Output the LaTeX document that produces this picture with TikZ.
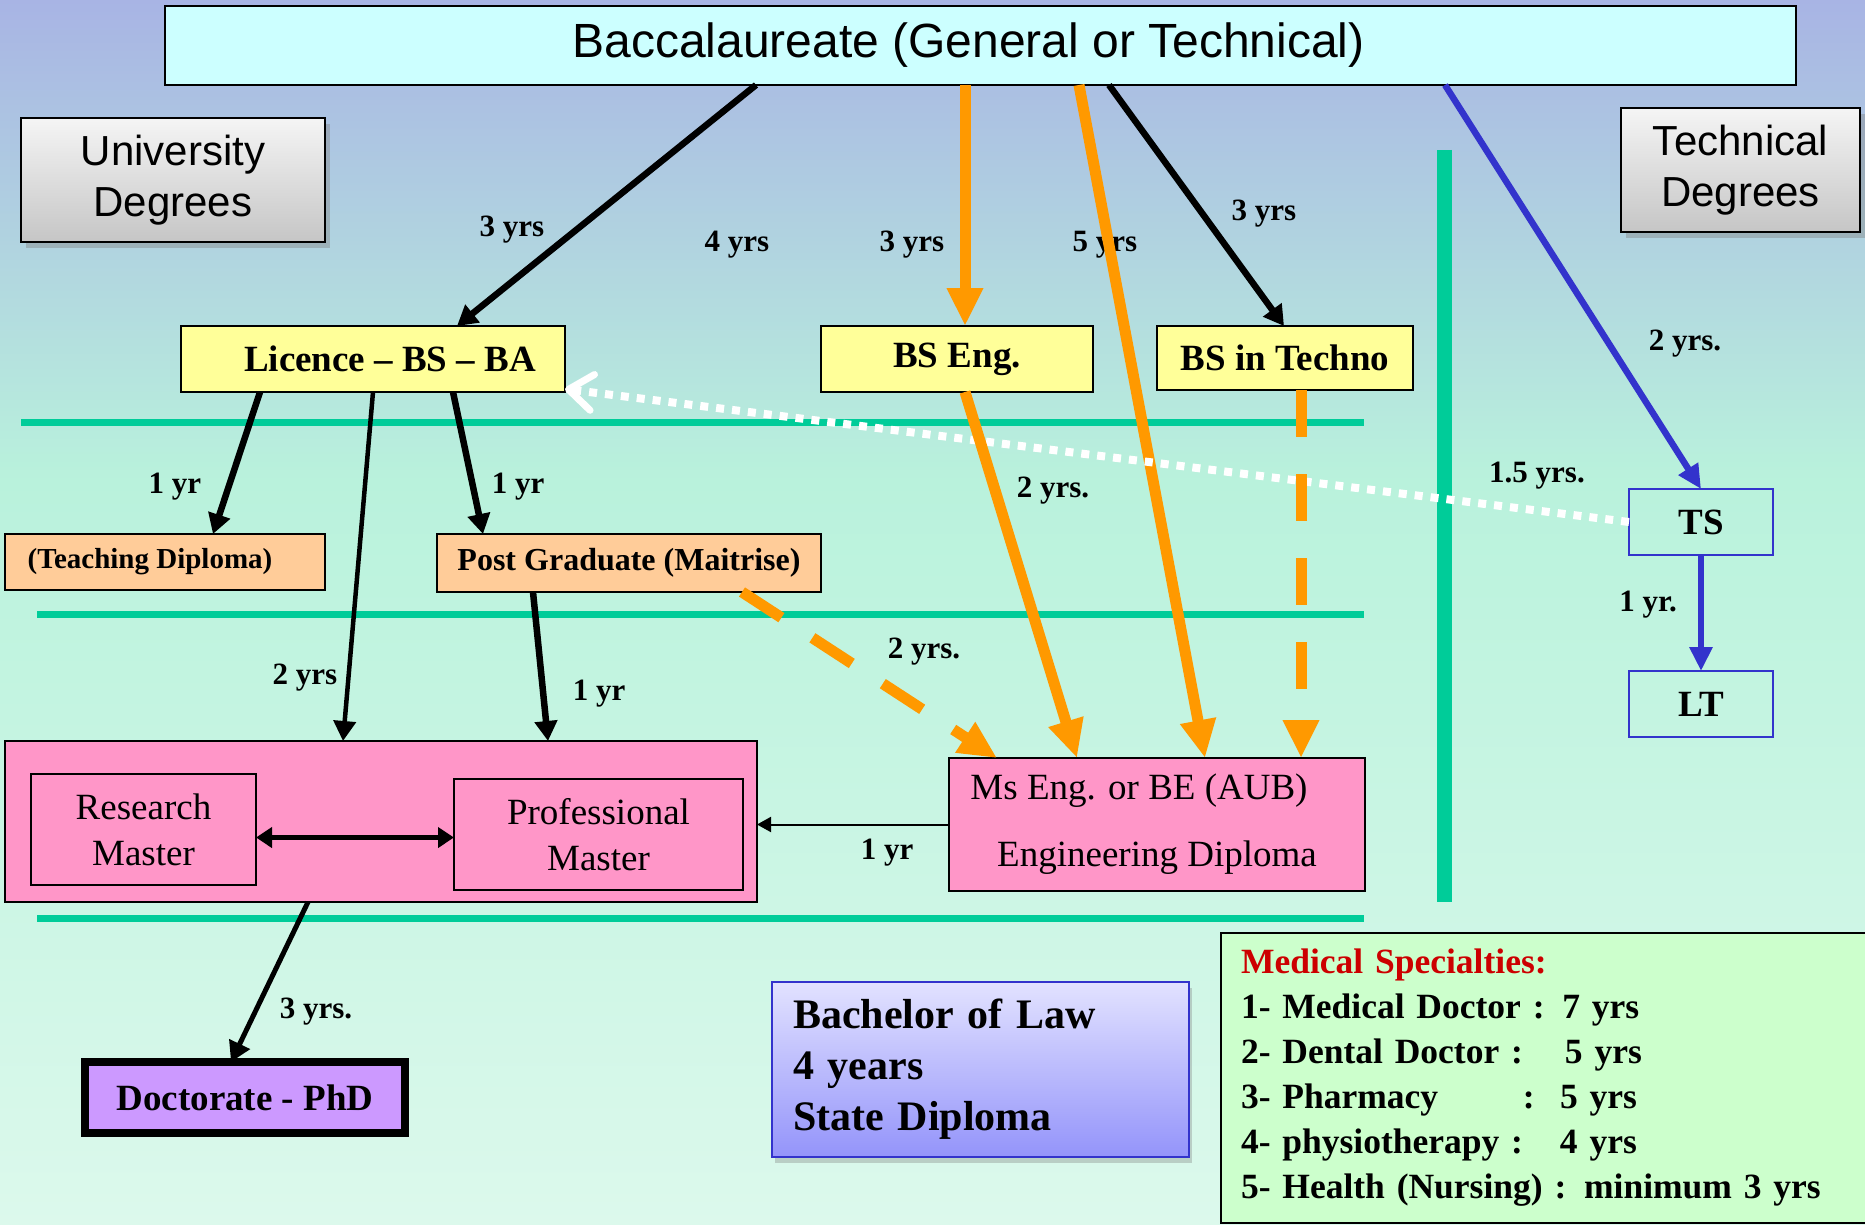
\documentclass[tikz,border=0pt]{standalone}
\usepackage{fontspec}
\setmainfont{Liberation Serif}
\newfontfamily\headfont{Liberation Sans}
\usetikzlibrary{arrows.meta,shadows}

\definecolor{bgtop}{HTML}{A8B4E4}
\definecolor{bgmid}{HTML}{B9F2DC}
\definecolor{bgbot}{HTML}{DCF9EC}
\definecolor{baccfill}{HTML}{CCFFFF}
\definecolor{yel}{HTML}{FFFF99}
\definecolor{peach}{HTML}{FFCC99}
\definecolor{pinkfill}{HTML}{FF96C8}
\definecolor{lilac}{HTML}{CC99FF}
\definecolor{orng}{HTML}{FF9900}
\definecolor{grn}{HTML}{00CC99}
\definecolor{colBlue}{HTML}{3333CC}
\definecolor{mint}{HTML}{CCFFCC}
\definecolor{medred}{HTML}{CC0000}
\definecolor{lawtop}{HTML}{E2E2FF}
\definecolor{lawbot}{HTML}{9494FA}

\tikzset{
  box/.style={draw=black, line width=2.5pt, inner sep=0pt, outer sep=0pt,
    font=\bfseries\fontsize{37}{44}\selectfont},
  headbox/.style={draw=black, line width=2.5pt, top color=gray!8, bottom color=gray!45,
    drop shadow={shadow xshift=5pt, shadow yshift=-6pt, opacity=0.4},
    inner sep=0pt, align=center, font=\headfont\fontsize{42}{51}\selectfont},
  yrs/.style={inner sep=0pt, font=\bfseries\fontsize{31}{36}\selectfont},
  blkarrow/.style={draw=black, line width=6.5pt, -{Triangle[length=20pt,width=22pt]}},
  orgarrow/.style={draw=orng, line width=11pt, -{Triangle[length=38pt,width=34pt]}},
  bluarrow/.style={draw=colBlue, line width=6.5pt, -{Triangle[length=24pt,width=22pt]}},
  dotarrow/.style={draw=white, line width=8pt, dash pattern=on 8pt off 8pt,
    -{Straight Barb[length=24pt,width=36pt,line width=7pt,round]}},
  rule/.style={draw=grn, line width=7pt}
}

\begin{document}
\begin{tikzpicture}[x=1pt,y=-1pt]
\useasboundingbox (0,0) rectangle (1865,1225);
\fill[top color=bgtop, bottom color=bgmid] (0,0) rectangle (1865,481);
\fill[top color=bgmid, bottom color=bgbot] (0,480) rectangle (1865,1225);

% green rules
\draw[rule] (21,422) -- (1364,422);
\draw[rule] (37,614) -- (1364,614);
\draw[rule] (37,918) -- (1364,918);
\draw[rule, line width=15pt] (1444,150) -- (1444,902);

% boxes
\node[box, fill=baccfill, minimum width=1631pt, minimum height=79pt,
  font=\headfont\fontsize{48}{56}\selectfont] (bacc) at (980.5,45.5) {Baccalaureate (General or Technical)\hspace*{24pt}};
\node[headbox, minimum width=304pt, minimum height=124pt] (univ) at (173,180) {University\\Degrees};
\node[headbox, minimum width=239pt, minimum height=124pt] (tech) at (1740.5,170) {Technical\\Degrees};

\node[box, fill=yel, minimum width=384pt, minimum height=66pt] (lic) at (373,359) {\hspace*{34pt}Licence -- BS -- BA};
\node[box, fill=yel, minimum width=272pt, minimum height=66pt] (bseng) at (957,359) {BS Eng.};
\node[box, fill=yel, minimum width=256pt, minimum height=64pt] (bstech) at (1285,358) {BS in Techno};

\node[box, fill=peach, minimum width=320pt, minimum height=56pt,
  font=\bfseries\fontsize{29}{34}\selectfont] (teach) at (165,562) {(Teaching Diploma)\hspace*{30pt}};
\node[box, fill=peach, minimum width=384pt, minimum height=58pt,
  font=\bfseries\fontsize{32}{38}\selectfont] (postgr) at (629,563) {Post Graduate (Maitrise)};

\node[box, fill=pinkfill, minimum width=752pt, minimum height=161pt] (mast) at (381,821.5) {};
\node[box, fill=pinkfill, minimum width=225pt, minimum height=111pt, align=center,
  font=\fontsize{37}{46}\selectfont] (resm) at (143.5,829.5) {Research\\Master};
\node[box, fill=pinkfill, minimum width=289pt, minimum height=111pt, align=center,
  font=\fontsize{37}{46}\selectfont] (profm) at (598.5,834.5) {Professional\\Master};
\node[box, fill=pinkfill, minimum width=416pt, minimum height=133pt, align=center,
  font=\fontsize{37}{67}\selectfont] (mseng) at (1157,824.5) {Ms Eng. or BE (AUB)\hspace*{36pt}\\Engineering Diploma};

\node[box, draw=colBlue, minimum width=144pt, minimum height=66pt] (ts) at (1701,522) {TS};
\node[box, draw=colBlue, minimum width=144pt, minimum height=66pt] (lt) at (1701,704) {LT};

\node[box, fill=lilac, line width=8pt, minimum width=320pt, minimum height=71pt] (doct) at (245,1097.5) {Doctorate - PhD};

\node[box, draw=colBlue, top color=lawtop, bottom color=lawbot,
  drop shadow={shadow xshift=3pt, shadow yshift=-6pt, opacity=0.35},
  minimum width=417pt, minimum height=175pt, text width=375pt, inner xsep=21pt, align=left,
  font=\bfseries\fontsize{42}{51}\selectfont] (law) at (980.5,1069.5) {Bachelor of Law\\4 years\\State Diploma};

\node[box, fill=mint, minimum width=649pt, minimum height=290pt, text width=609pt, inner xsep=20pt,
  align=left, font=\bfseries\fontsize{35.5}{45}\selectfont] (med) at (1545.5,1078) {%
  \textcolor{medred}{Medical Specialties:}\\
  1- Medical Doctor : 7 yrs\\
  \makebox[324pt][l]{2- Dental Doctor :}5 yrs\\
  \makebox[282pt][l]{3- Pharmacy}\makebox[37pt][l]{:}5 yrs\\
  \makebox[319pt][l]{4- physiotherapy :}4 yrs\\
  5- Health (Nursing) : minimum 3 yrs};

% year labels
\node[yrs] (ylic) at (512,230) {3 yrs};
\node[yrs] (ylaw) at (737,245) {4 yrs};
\node[yrs] (ybseng) at (912,245) {3 yrs};
\node[yrs] (ymseng) at (1105,245) {5 yrs};
\node[yrs] (ybstech) at (1264,214) {3 yrs};
\node[yrs] (yts) at (1685,344) {2 yrs.};
\node[yrs] (ytslic) at (1537,476) {1.5 yrs.};
\node[yrs] (ylt) at (1648,605) {1 yr.};
\node[yrs] (yteach) at (175,487) {1 yr};
\node[yrs] (ypostgr) at (518,487) {1 yr};
\node[yrs] (ymast) at (305,678) {2 yrs};
\node[yrs] (yprof) at (599,694) {1 yr};
\node[yrs] (ypgeng) at (924,652) {2 yrs.};
\node[yrs] (ybseng2) at (1053,491) {2 yrs.};
\node[yrs] (yengmast) at (887,853) {1 yr};
\node[yrs] (ydoct) at (316,1012) {3 yrs.};

% connectors
\draw[blkarrow] ([xshift=591pt]bacc.south west) -- ([xshift=276pt]lic.north west);
\draw[orgarrow] ([xshift=800pt]bacc.south west) -- ([xshift=144pt]bseng.north west);
\draw[orgarrow] ([xshift=914pt]bacc.south west) -- ([xshift=256pt]mseng.north west);
\draw[blkarrow] ([xshift=944pt]bacc.south west) -- ([xshift=127pt]bstech.north west);
\draw[bluarrow] ([xshift=1280pt]bacc.south west) -- (ts.north);
\draw[dotarrow] (ts.west) -- ([yshift=3pt]lic.south east);
\draw[bluarrow] (ts.south) -- (lt.north);
\draw[blkarrow] ([xshift=79pt]lic.south west) -- ([xshift=208pt]teach.north west);
\draw[blkarrow, line width=4.5pt] ([xshift=192pt]lic.south west) -- ([xshift=338pt]mast.north west);
\draw[blkarrow] ([xshift=272pt]lic.south west) -- ([xshift=46pt]postgr.north west);
\draw[blkarrow] ([xshift=96pt]postgr.south west) -- ([xshift=543pt]mast.north west);
\draw[orgarrow, dash pattern=on 47pt off 37pt] ([xshift=305pt]postgr.south west) -- ([xshift=48pt]mseng.north west);
\draw[orgarrow] ([xshift=144pt]bseng.south west) -- ([xshift=128pt]mseng.north west);
\draw[orgarrow, dash pattern=on 47pt off 37pt] ([xshift=144pt]bstech.south west) -- ([xshift=352pt]mseng.north west);
\draw[line width=2pt, -{Triangle[length=14pt,width=15pt]}] (mseng.west) -- (mseng.west -| mast.east);
\draw[line width=5pt, {Triangle[length=16pt,width=20pt]}-{Triangle[length=16pt,width=20pt]}]
  ([yshift=-8pt]resm.east) -- ([yshift=-8pt]resm.east -| profm.west);
\draw[blkarrow, line width=5pt] ([xshift=303pt]mast.south west) -- ([xshift=146pt]doct.north west);
\end{tikzpicture}
\end{document}
